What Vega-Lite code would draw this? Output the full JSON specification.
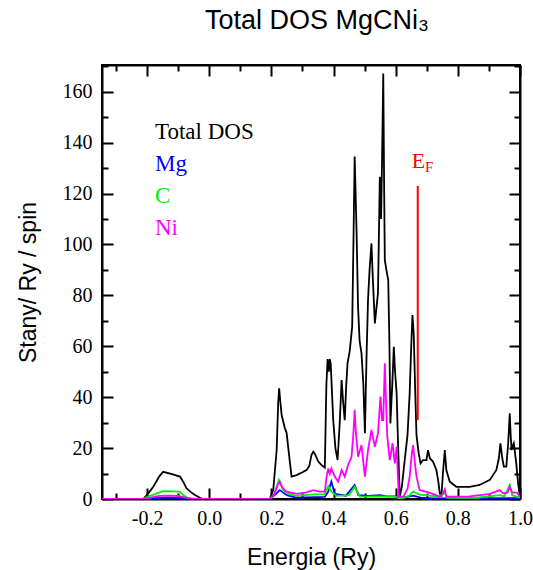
{
  "$schema": "https://vega.github.io/schema/vega-lite/v6.json",
  "autosize": "none",
  "width": 418,
  "height": 434,
  "padding": {"left": 102, "top": 65, "right": 13, "bottom": 71},
  "background": "white",
  "title": {"text": "Total DOS MgCNi₃", "font": "Liberation Sans", "fontSize": 27, "fontWeight": "normal", "color": "black", "baseline": "alphabetic", "offset": 0, "dx": 6},
  "config": {
    "view": {"stroke": "black", "strokeWidth": 2},
    "axis": {"domainColor": "black", "domainWidth": 2, "tickColor": "black", "tickWidth": 2, "grid": false, "labelFont": "Liberation Serif", "labelFontSize": 20, "labelColor": "black", "titleFont": "Liberation Sans", "titleFontSize": 23, "titleFontWeight": "normal", "titleColor": "black", "labelFlush": false, "labelOverlap": false, "labelBound": false}
  },
  "datasets": {
    "dos": [
      {"E": -0.345, "DOS": 0, "s": "Total DOS"}, {"E": -0.212, "DOS": 0, "s": "Total DOS"}, {"E": -0.196, "DOS": 2.2, "s": "Total DOS"}, {"E": -0.18, "DOS": 4.8, "s": "Total DOS"}, {"E": -0.16, "DOS": 9, "s": "Total DOS"}, {"E": -0.148, "DOS": 10.7, "s": "Total DOS"}, {"E": -0.12, "DOS": 9.8, "s": "Total DOS"}, {"E": -0.094, "DOS": 8.8, "s": "Total DOS"}, {"E": -0.084, "DOS": 6.8, "s": "Total DOS"}, {"E": -0.073, "DOS": 4.2, "s": "Total DOS"}, {"E": -0.06, "DOS": 2.8, "s": "Total DOS"}, {"E": -0.046, "DOS": 1.6, "s": "Total DOS"}, {"E": -0.03, "DOS": 0.5, "s": "Total DOS"}, {"E": -0.02, "DOS": 0, "s": "Total DOS"}, {"E": 0.195, "DOS": 0, "s": "Total DOS"}, {"E": 0.206, "DOS": 3.5, "s": "Total DOS"}, {"E": 0.217, "DOS": 19.2, "s": "Total DOS"}, {"E": 0.222, "DOS": 38, "s": "Total DOS"}, {"E": 0.225, "DOS": 43.5, "s": "Total DOS"}, {"E": 0.229, "DOS": 38, "s": "Total DOS"}, {"E": 0.233, "DOS": 33, "s": "Total DOS"}, {"E": 0.243, "DOS": 28, "s": "Total DOS"}, {"E": 0.249, "DOS": 26, "s": "Total DOS"}, {"E": 0.254, "DOS": 20.5, "s": "Total DOS"}, {"E": 0.26, "DOS": 14, "s": "Total DOS"}, {"E": 0.265, "DOS": 8.8, "s": "Total DOS"}, {"E": 0.281, "DOS": 9.4, "s": "Total DOS"}, {"E": 0.3, "DOS": 10.5, "s": "Total DOS"}, {"E": 0.313, "DOS": 11.4, "s": "Total DOS"}, {"E": 0.322, "DOS": 13, "s": "Total DOS"}, {"E": 0.329, "DOS": 17.3, "s": "Total DOS"}, {"E": 0.335, "DOS": 18.6, "s": "Total DOS"}, {"E": 0.34, "DOS": 17.7, "s": "Total DOS"}, {"E": 0.351, "DOS": 14.7, "s": "Total DOS"}, {"E": 0.36, "DOS": 13.5, "s": "Total DOS"}, {"E": 0.372, "DOS": 12.3, "s": "Total DOS"}, {"E": 0.377, "DOS": 45, "s": "Total DOS"}, {"E": 0.381, "DOS": 55, "s": "Total DOS"}, {"E": 0.385, "DOS": 50, "s": "Total DOS"}, {"E": 0.388, "DOS": 55, "s": "Total DOS"}, {"E": 0.391, "DOS": 53, "s": "Total DOS"}, {"E": 0.395, "DOS": 42, "s": "Total DOS"}, {"E": 0.399, "DOS": 31, "s": "Total DOS"}, {"E": 0.406, "DOS": 20, "s": "Total DOS"}, {"E": 0.413, "DOS": 15.3, "s": "Total DOS"}, {"E": 0.42, "DOS": 30, "s": "Total DOS"}, {"E": 0.426, "DOS": 46.7, "s": "Total DOS"}, {"E": 0.431, "DOS": 38, "s": "Total DOS"}, {"E": 0.436, "DOS": 31, "s": "Total DOS"}, {"E": 0.441, "DOS": 45, "s": "Total DOS"}, {"E": 0.445, "DOS": 53.3, "s": "Total DOS"}, {"E": 0.452, "DOS": 58, "s": "Total DOS"}, {"E": 0.46, "DOS": 67.7, "s": "Total DOS"}, {"E": 0.464, "DOS": 100, "s": "Total DOS"}, {"E": 0.468, "DOS": 134.5, "s": "Total DOS"}, {"E": 0.471, "DOS": 120, "s": "Total DOS"}, {"E": 0.474, "DOS": 105.7, "s": "Total DOS"}, {"E": 0.479, "DOS": 75, "s": "Total DOS"}, {"E": 0.484, "DOS": 62, "s": "Total DOS"}, {"E": 0.49, "DOS": 57.2, "s": "Total DOS"}, {"E": 0.496, "DOS": 45, "s": "Total DOS"}, {"E": 0.501, "DOS": 25.8, "s": "Total DOS"}, {"E": 0.506, "DOS": 55, "s": "Total DOS"}, {"E": 0.511, "DOS": 78.2, "s": "Total DOS"}, {"E": 0.516, "DOS": 90, "s": "Total DOS"}, {"E": 0.522, "DOS": 100.4, "s": "Total DOS"}, {"E": 0.527, "DOS": 85, "s": "Total DOS"}, {"E": 0.533, "DOS": 69, "s": "Total DOS"}, {"E": 0.538, "DOS": 75, "s": "Total DOS"}, {"E": 0.543, "DOS": 80.8, "s": "Total DOS"}, {"E": 0.549, "DOS": 126.6, "s": "Total DOS"}, {"E": 0.553, "DOS": 110, "s": "Total DOS"}, {"E": 0.557, "DOS": 140, "s": "Total DOS"}, {"E": 0.56, "DOS": 167.2, "s": "Total DOS"}, {"E": 0.563, "DOS": 120, "s": "Total DOS"}, {"E": 0.565, "DOS": 93.9, "s": "Total DOS"}, {"E": 0.57, "DOS": 90, "s": "Total DOS"}, {"E": 0.576, "DOS": 86, "s": "Total DOS"}, {"E": 0.58, "DOS": 60, "s": "Total DOS"}, {"E": 0.583, "DOS": 29.7, "s": "Total DOS"}, {"E": 0.589, "DOS": 45, "s": "Total DOS"}, {"E": 0.594, "DOS": 59.8, "s": "Total DOS"}, {"E": 0.598, "DOS": 50, "s": "Total DOS"}, {"E": 0.603, "DOS": 41.5, "s": "Total DOS"}, {"E": 0.608, "DOS": 20, "s": "Total DOS"}, {"E": 0.613, "DOS": 0.9, "s": "Total DOS"}, {"E": 0.62, "DOS": 5, "s": "Total DOS"}, {"E": 0.629, "DOS": 15.3, "s": "Total DOS"}, {"E": 0.638, "DOS": 25, "s": "Total DOS"}, {"E": 0.645, "DOS": 41.5, "s": "Total DOS"}, {"E": 0.65, "DOS": 60, "s": "Total DOS"}, {"E": 0.654, "DOS": 72.3, "s": "Total DOS"}, {"E": 0.658, "DOS": 65, "s": "Total DOS"}, {"E": 0.663, "DOS": 41.5, "s": "Total DOS"}, {"E": 0.667, "DOS": 25, "s": "Total DOS"}, {"E": 0.674, "DOS": 18, "s": "Total DOS"}, {"E": 0.68, "DOS": 14, "s": "Total DOS"}, {"E": 0.688, "DOS": 15.3, "s": "Total DOS"}, {"E": 0.699, "DOS": 15.3, "s": "Total DOS"}, {"E": 0.704, "DOS": 19.2, "s": "Total DOS"}, {"E": 0.71, "DOS": 16, "s": "Total DOS"}, {"E": 0.72, "DOS": 14.7, "s": "Total DOS"}, {"E": 0.731, "DOS": 11.4, "s": "Total DOS"}, {"E": 0.737, "DOS": 7, "s": "Total DOS"}, {"E": 0.742, "DOS": 2.2, "s": "Total DOS"}, {"E": 0.747, "DOS": 0.9, "s": "Total DOS"}, {"E": 0.752, "DOS": 10.1, "s": "Total DOS"}, {"E": 0.758, "DOS": 19.2, "s": "Total DOS"}, {"E": 0.763, "DOS": 11.4, "s": "Total DOS"}, {"E": 0.774, "DOS": 6.8, "s": "Total DOS"}, {"E": 0.795, "DOS": 4.8, "s": "Total DOS"}, {"E": 0.838, "DOS": 4.8, "s": "Total DOS"}, {"E": 0.87, "DOS": 5.5, "s": "Total DOS"}, {"E": 0.903, "DOS": 7.5, "s": "Total DOS"}, {"E": 0.924, "DOS": 11.4, "s": "Total DOS"}, {"E": 0.932, "DOS": 16, "s": "Total DOS"}, {"E": 0.937, "DOS": 21.9, "s": "Total DOS"}, {"E": 0.943, "DOS": 16, "s": "Total DOS"}, {"E": 0.948, "DOS": 12.7, "s": "Total DOS"}, {"E": 0.956, "DOS": 12.7, "s": "Total DOS"}, {"E": 0.962, "DOS": 22, "s": "Total DOS"}, {"E": 0.967, "DOS": 33.7, "s": "Total DOS"}, {"E": 0.97, "DOS": 25, "s": "Total DOS"}, {"E": 0.973, "DOS": 19.2, "s": "Total DOS"}, {"E": 0.977, "DOS": 21, "s": "Total DOS"}, {"E": 0.98, "DOS": 21.9, "s": "Total DOS"}, {"E": 0.984, "DOS": 18, "s": "Total DOS"}, {"E": 0.988, "DOS": 14, "s": "Total DOS"}, {"E": 0.994, "DOS": 6, "s": "Total DOS"}, {"E": 1.0, "DOS": 0.9, "s": "Total DOS"},
      {"E": -0.345, "DOS": 0, "s": "Mg"}, {"E": -0.212, "DOS": 0, "s": "Mg"}, {"E": -0.18, "DOS": 0.3, "s": "Mg"}, {"E": -0.14, "DOS": 0.5, "s": "Mg"}, {"E": -0.1, "DOS": 0.5, "s": "Mg"}, {"E": -0.07, "DOS": 0.2, "s": "Mg"}, {"E": -0.05, "DOS": 0, "s": "Mg"}, {"E": 0.195, "DOS": 0, "s": "Mg"}, {"E": 0.215, "DOS": 2, "s": "Mg"}, {"E": 0.227, "DOS": 3.5, "s": "Mg"}, {"E": 0.25, "DOS": 1.5, "s": "Mg"}, {"E": 0.28, "DOS": 0.5, "s": "Mg"}, {"E": 0.372, "DOS": 0.8, "s": "Mg"}, {"E": 0.383, "DOS": 2.9, "s": "Mg"}, {"E": 0.393, "DOS": 6.8, "s": "Mg"}, {"E": 0.404, "DOS": 2, "s": "Mg"}, {"E": 0.44, "DOS": 1.3, "s": "Mg"}, {"E": 0.468, "DOS": 5.5, "s": "Mg"}, {"E": 0.48, "DOS": 1.5, "s": "Mg"}, {"E": 0.51, "DOS": 1.2, "s": "Mg"}, {"E": 0.55, "DOS": 1.5, "s": "Mg"}, {"E": 0.57, "DOS": 1, "s": "Mg"}, {"E": 0.6, "DOS": 1, "s": "Mg"}, {"E": 0.61, "DOS": 0.2, "s": "Mg"}, {"E": 0.656, "DOS": 1.3, "s": "Mg"}, {"E": 0.68, "DOS": 0.5, "s": "Mg"}, {"E": 0.72, "DOS": 0.2, "s": "Mg"}, {"E": 1.0, "DOS": 0.3, "s": "Mg"},
      {"E": -0.345, "DOS": 0, "s": "C"}, {"E": -0.212, "DOS": 0, "s": "C"}, {"E": -0.196, "DOS": 1, "s": "C"}, {"E": -0.18, "DOS": 1.6, "s": "C"}, {"E": -0.16, "DOS": 2.6, "s": "C"}, {"E": -0.148, "DOS": 3.1, "s": "C"}, {"E": -0.11, "DOS": 3.0, "s": "C"}, {"E": -0.094, "DOS": 2.8, "s": "C"}, {"E": -0.084, "DOS": 1.6, "s": "C"}, {"E": -0.07, "DOS": 0.5, "s": "C"}, {"E": -0.06, "DOS": 0, "s": "C"}, {"E": 0.195, "DOS": 0, "s": "C"}, {"E": 0.21, "DOS": 2, "s": "C"}, {"E": 0.224, "DOS": 7.5, "s": "C"}, {"E": 0.238, "DOS": 3.5, "s": "C"}, {"E": 0.26, "DOS": 1.8, "s": "C"}, {"E": 0.281, "DOS": 1.2, "s": "C"}, {"E": 0.335, "DOS": 1.8, "s": "C"}, {"E": 0.372, "DOS": 1.8, "s": "C"}, {"E": 0.383, "DOS": 5.1, "s": "C"}, {"E": 0.393, "DOS": 2.9, "s": "C"}, {"E": 0.41, "DOS": 1.2, "s": "C"}, {"E": 0.45, "DOS": 1.5, "s": "C"}, {"E": 0.468, "DOS": 4.8, "s": "C"}, {"E": 0.485, "DOS": 0.9, "s": "C"}, {"E": 0.55, "DOS": 1, "s": "C"}, {"E": 0.6, "DOS": 0.8, "s": "C"}, {"E": 0.61, "DOS": 0.3, "s": "C"}, {"E": 0.63, "DOS": 0.5, "s": "C"}, {"E": 0.645, "DOS": 1.5, "s": "C"}, {"E": 0.656, "DOS": 2.9, "s": "C"}, {"E": 0.677, "DOS": 1.7, "s": "C"}, {"E": 0.74, "DOS": 1, "s": "C"}, {"E": 0.758, "DOS": 2.5, "s": "C"}, {"E": 0.765, "DOS": 0.5, "s": "C"}, {"E": 0.86, "DOS": 0.5, "s": "C"}, {"E": 0.935, "DOS": 1.5, "s": "C"}, {"E": 0.95, "DOS": 1, "s": "C"}, {"E": 0.967, "DOS": 5.5, "s": "C"}, {"E": 0.975, "DOS": 1.5, "s": "C"}, {"E": 1.0, "DOS": 0.5, "s": "C"},
      {"E": -0.345, "DOS": 0, "s": "Ni"}, {"E": -0.212, "DOS": 0, "s": "Ni"}, {"E": -0.19, "DOS": 0.5, "s": "Ni"}, {"E": -0.16, "DOS": 1.2, "s": "Ni"}, {"E": -0.13, "DOS": 1.3, "s": "Ni"}, {"E": -0.1, "DOS": 1.2, "s": "Ni"}, {"E": -0.08, "DOS": 0.6, "s": "Ni"}, {"E": -0.06, "DOS": 0.2, "s": "Ni"}, {"E": -0.04, "DOS": 0, "s": "Ni"}, {"E": 0.195, "DOS": 0, "s": "Ni"}, {"E": 0.21, "DOS": 2, "s": "Ni"}, {"E": 0.22, "DOS": 5.5, "s": "Ni"}, {"E": 0.227, "DOS": 6.8, "s": "Ni"}, {"E": 0.235, "DOS": 4.5, "s": "Ni"}, {"E": 0.249, "DOS": 2.9, "s": "Ni"}, {"E": 0.281, "DOS": 2, "s": "Ni"}, {"E": 0.31, "DOS": 2.5, "s": "Ni"}, {"E": 0.335, "DOS": 3.5, "s": "Ni"}, {"E": 0.355, "DOS": 2.9, "s": "Ni"}, {"E": 0.372, "DOS": 2.9, "s": "Ni"}, {"E": 0.378, "DOS": 9, "s": "Ni"}, {"E": 0.383, "DOS": 12, "s": "Ni"}, {"E": 0.388, "DOS": 10, "s": "Ni"}, {"E": 0.393, "DOS": 12, "s": "Ni"}, {"E": 0.404, "DOS": 8.8, "s": "Ni"}, {"E": 0.415, "DOS": 6.8, "s": "Ni"}, {"E": 0.426, "DOS": 11.4, "s": "Ni"}, {"E": 0.436, "DOS": 8.8, "s": "Ni"}, {"E": 0.447, "DOS": 13.4, "s": "Ni"}, {"E": 0.458, "DOS": 16.6, "s": "Ni"}, {"E": 0.464, "DOS": 26, "s": "Ni"}, {"E": 0.468, "DOS": 35, "s": "Ni"}, {"E": 0.472, "DOS": 26, "s": "Ni"}, {"E": 0.479, "DOS": 16.6, "s": "Ni"}, {"E": 0.49, "DOS": 21.2, "s": "Ni"}, {"E": 0.501, "DOS": 8.8, "s": "Ni"}, {"E": 0.511, "DOS": 19.2, "s": "Ni"}, {"E": 0.522, "DOS": 27.1, "s": "Ni"}, {"E": 0.533, "DOS": 20.5, "s": "Ni"}, {"E": 0.543, "DOS": 25.8, "s": "Ni"}, {"E": 0.551, "DOS": 40.2, "s": "Ni"}, {"E": 0.556, "DOS": 31, "s": "Ni"}, {"E": 0.56, "DOS": 31, "s": "Ni"}, {"E": 0.565, "DOS": 53.3, "s": "Ni"}, {"E": 0.569, "DOS": 38, "s": "Ni"}, {"E": 0.573, "DOS": 24.5, "s": "Ni"}, {"E": 0.581, "DOS": 15.3, "s": "Ni"}, {"E": 0.59, "DOS": 21.9, "s": "Ni"}, {"E": 0.597, "DOS": 14, "s": "Ni"}, {"E": 0.603, "DOS": 20.5, "s": "Ni"}, {"E": 0.61, "DOS": 0.9, "s": "Ni"}, {"E": 0.625, "DOS": 1, "s": "Ni"}, {"E": 0.638, "DOS": 4, "s": "Ni"}, {"E": 0.645, "DOS": 8.8, "s": "Ni"}, {"E": 0.652, "DOS": 18, "s": "Ni"}, {"E": 0.656, "DOS": 21.2, "s": "Ni"}, {"E": 0.661, "DOS": 15, "s": "Ni"}, {"E": 0.667, "DOS": 8.8, "s": "Ni"}, {"E": 0.677, "DOS": 3.5, "s": "Ni"}, {"E": 0.7, "DOS": 2.8, "s": "Ni"}, {"E": 0.72, "DOS": 2, "s": "Ni"}, {"E": 0.742, "DOS": 0.9, "s": "Ni"}, {"E": 0.752, "DOS": 2, "s": "Ni"}, {"E": 0.758, "DOS": 3.8, "s": "Ni"}, {"E": 0.763, "DOS": 0.9, "s": "Ni"}, {"E": 0.838, "DOS": 1, "s": "Ni"}, {"E": 0.903, "DOS": 2, "s": "Ni"}, {"E": 0.935, "DOS": 3.5, "s": "Ni"}, {"E": 0.945, "DOS": 2.2, "s": "Ni"}, {"E": 0.96, "DOS": 2.5, "s": "Ni"}, {"E": 0.967, "DOS": 4.8, "s": "Ni"}, {"E": 0.975, "DOS": 2.5, "s": "Ni"}, {"E": 0.99, "DOS": 2.5, "s": "Ni"}, {"E": 1.0, "DOS": 0.9, "s": "Ni"}
    ]
  },
  "resolve": {"axis": {"x": "independent", "y": "independent"}},
  "layer": [
    {
      "data": {"name": "dos"},
      "mark": {"type": "line", "strokeWidth": 1.8, "clip": true},
      "encoding": {
        "x": {"field": "E", "type": "quantitative", "scale": {"domain": [-0.345, 1.0], "nice": false, "zero": false},
          "axis": {"orient": "bottom", "title": "Energia (Ry)", "values": [-0.3, -0.2, -0.1, 0, 0.1, 0.2, 0.3, 0.4, 0.5, 0.6, 0.7, 0.8, 0.9, 1.0],
            "labelExpr": "abs(round(datum.value*10)) % 2 === 0 ? (datum.value < 0 ? '-' : '') + format(abs(datum.value), '.1f') : ''",
            "tickSize": {"condition": {"test": "abs(round(datum.value*10)) % 2 === 0", "value": -11}, "value": -6},
            "labelPadding": 20, "titleBaseline": "alphabetic", "titlePadding": 31}},
        "y": {"field": "DOS", "type": "quantitative", "scale": {"domain": [0, 170.5], "nice": false},
          "axis": {"orient": "left", "title": "Stany/ Ry / spin", "values": [0, 10, 20, 30, 40, 50, 60, 70, 80, 90, 100, 110, 120, 130, 140, 150, 160, 170],
            "labelExpr": "datum.value % 20 === 0 ? datum.label : ''",
            "tickSize": {"condition": {"test": "datum.value % 20 === 0", "value": -11}, "value": -6},
            "labelPadding": 21, "titleBaseline": "alphabetic", "titlePadding": 27}},
        "color": {"field": "s", "type": "nominal", "sort": ["Total DOS", "Mg", "C", "Ni"],
          "scale": {"domain": ["Total DOS", "Mg", "C", "Ni"], "range": ["#000000", "#0000ff", "#00f000", "#ff00ff"]},
          "legend": {"orient": "none", "legendX": 30, "legendY": 55, "title": null, "padding": 0, "symbolSize": 0, "symbolOpacity": 0, "symbolStrokeWidth": 0, "labelOffset": 0, "labelFont": "Liberation Serif", "labelFontSize": 23, "rowPadding": 8,
            "encode": {"labels": {"update": {"fill": {"scale": "color", "field": "value"}}}}}}
      }
    },
    {
      "data": {"values": [{}]},
      "mark": {"type": "rule", "color": "#ff0000", "strokeWidth": 2},
      "encoding": {
        "x": {"datum": 0.671, "type": "quantitative",
          "axis": {"orient": "top", "title": null, "labels": false, "values": [-0.3, -0.2, -0.1, 0, 0.1, 0.2, 0.3, 0.4, 0.5, 0.6, 0.7, 0.8, 0.9, 1.0],
            "tickSize": {"condition": {"test": "abs(round(datum.value*10)) % 2 === 0", "value": -11}, "value": -6}}},
        "y": {"datum": 31, "type": "quantitative",
          "axis": {"orient": "right", "title": null, "labels": false, "values": [0, 10, 20, 30, 40, 50, 60, 70, 80, 90, 100, 110, 120, 130, 140, 150, 160, 170],
            "tickSize": {"condition": {"test": "datum.value % 20 === 0", "value": -11}, "value": -6}}},
        "y2": {"datum": 123}
      }
    },
    {
      "data": {"values": [{}]},
      "mark": {"type": "text", "text": "E", "color": "#ff0000", "font": "Liberation Serif", "fontSize": 22, "align": "left", "baseline": "alphabetic"},
      "encoding": {"x": {"datum": 0.652, "type": "quantitative", "axis": null}, "y": {"datum": 130, "type": "quantitative", "axis": null}}
    },
    {
      "data": {"values": [{}]},
      "mark": {"type": "text", "text": "F", "color": "#ff0000", "font": "Liberation Serif", "fontSize": 15, "align": "left", "baseline": "alphabetic"},
      "encoding": {"x": {"datum": 0.694, "type": "quantitative", "axis": null}, "y": {"datum": 128.5, "type": "quantitative", "axis": null}}
    }
  ]
}
